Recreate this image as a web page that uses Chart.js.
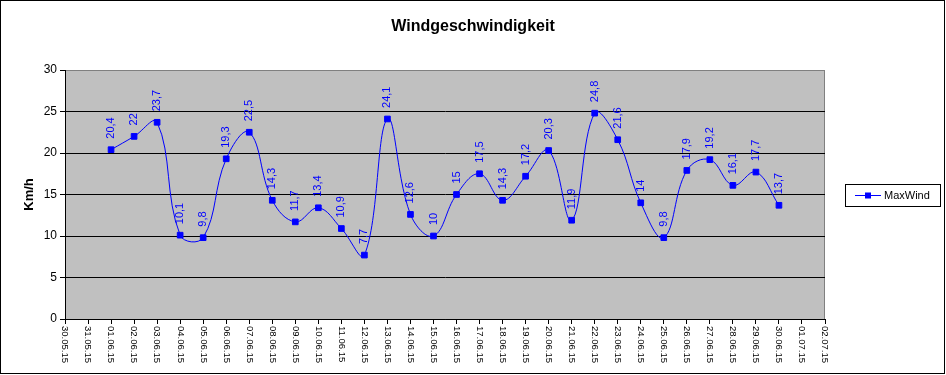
<!DOCTYPE html>
<html>
<head>
<meta charset="utf-8">
<script src="https://cdn.jsdelivr.net/npm/chart.js@4/dist/chart.umd.min.js"></script>
<style>
  html, body { margin: 0; padding: 0; background: #fff; }
  #c { display: block; }
</style>
</head>
<body>
<canvas id="c" width="946" height="375"></canvas>
<script>
// ── data ──────────────────────────────────────
const titleText = 'Windgeschwindigkeit';
const yAxisTitle = 'Km/h';
const seriesName = 'MaxWind';

const dates = [
  '30.05.15', '31.05.15', '01.06.15', '02.06.15', '03.06.15', '04.06.15', '05.06.15',
  '06.06.15', '07.06.15', '08.06.15', '09.06.15', '10.06.15', '11.06.15', '12.06.15',
  '13.06.15', '14.06.15', '15.06.15', '16.06.15', '17.06.15', '18.06.15', '19.06.15',
  '20.06.15', '21.06.15', '22.06.15', '23.06.15', '24.06.15', '25.06.15', '26.06.15',
  '27.06.15', '28.06.15', '29.06.15', '30.06.15', '01.07.15', '02.07.15'
];

const maxWind = [
  null, null, 20.4, 22, 23.7, 10.1, 9.8,
  19.3, 22.5, 14.3, 11.7, 13.4, 10.9, 7.7,
  24.1, 12.6, 10, 15, 17.5, 14.3, 17.2,
  20.3, 11.9, 24.8, 21.6, 14, 9.8, 17.9,
  19.2, 16.1, 17.7, 13.7, null, null
];

const yMin = 0, yMax = 30, yStep = 5;

const BLUE = '#0000ff';

// Excel-ish frame, plot background, texts drawn on canvas
const excelLook = {
  id: 'excelLook',
  beforeDraw(chart) {
    const { ctx, chartArea: a } = chart;
    ctx.save();
    ctx.fillStyle = '#fff';
    ctx.fillRect(0, 0, chart.width, chart.height);
    ctx.fillStyle = '#c0c0c0';
    ctx.fillRect(a.left, a.top, a.right - a.left, a.bottom - a.top);
    ctx.strokeStyle = '#808080';
    ctx.lineWidth = 1;
    ctx.strokeRect(a.left + 0.5, a.top + 0.5, a.right - a.left - 1, a.bottom - a.top);
    ctx.restore();
  },
  afterDatasetsDraw(chart) {
    // rotated value labels above each point
    const { ctx } = chart;
    const meta = chart.getDatasetMeta(0);
    const data = chart.data.datasets[0].data;
    ctx.save();
    ctx.fillStyle = BLUE;
    ctx.font = '11px "Liberation Sans", Arial, sans-serif';
    ctx.textAlign = 'left';
    ctx.textBaseline = 'middle';
    meta.data.forEach((pt, i) => {
      const v = data[i];
      if (v == null) return;
      ctx.save();
      ctx.translate(pt.x, pt.y - 11);
      ctx.rotate(-Math.PI / 2);
      ctx.fillText(String(v).replace('.', ','), 0, 0);
      ctx.restore();
    });
    ctx.restore();
  },
  afterDraw(chart) {
    const { ctx, chartArea: a } = chart;
    const xs = chart.scales.x;
    ctx.save();

    // outer frame
    ctx.strokeStyle = '#000';
    ctx.lineWidth = 1;
    ctx.strokeRect(0.5, 0.5, 944, 373);

    // title
    ctx.fillStyle = '#000';
    ctx.font = 'bold 16px "Liberation Sans", Arial, sans-serif';
    ctx.textAlign = 'center';
    ctx.textBaseline = 'alphabetic';
    ctx.fillText(titleText, 473, 31);

    // y axis title
    ctx.save();
    ctx.translate(33, (a.top + a.bottom) / 2);
    ctx.rotate(-Math.PI / 2);
    ctx.font = 'bold 13px "Liberation Sans", Arial, sans-serif';
    ctx.textAlign = 'center';
    ctx.textBaseline = 'alphabetic';
    ctx.fillText(yAxisTitle, 0, 0);
    ctx.restore();

    // x tick labels, rotated clockwise
    ctx.font = '9.5px "Liberation Sans", Arial, sans-serif';
    ctx.fillStyle = '#000';
    ctx.textAlign = 'left';
    ctx.textBaseline = 'middle';
    chart.data.labels.forEach((lab, i) => {
      const x = xs.getPixelForTick(i);
      ctx.save();
      ctx.translate(x, a.bottom + 7);
      ctx.rotate(Math.PI / 2);
      ctx.fillText(lab, 0, 0);
      ctx.restore();
    });

    // legend
    const lx = 845, ly = 184, lw = 95, lh = 22;
    ctx.strokeStyle = '#000';
    ctx.strokeRect(lx + 0.5, ly + 0.5, lw, lh);
    const my = ly + lh / 2 + 0.5;
    ctx.strokeStyle = BLUE;
    ctx.beginPath();
    ctx.moveTo(855, my);
    ctx.lineTo(881, my);
    ctx.stroke();
    ctx.fillStyle = BLUE;
    ctx.fillRect(865, my - 3, 6, 6);
    ctx.fillStyle = '#000';
    ctx.font = '11px "Liberation Sans", Arial, sans-serif';
    ctx.textAlign = 'left';
    ctx.textBaseline = 'middle';
    ctx.fillText(chart.data.datasets[0].label, 884, my);

    ctx.restore();
  }
};

new Chart(document.getElementById('c'), {
  type: 'line',
  data: {
    labels: dates,
    datasets: [{
      label: seriesName,
      data: maxWind,
      borderColor: BLUE,
      borderWidth: 1,
      backgroundColor: BLUE,
      pointStyle: 'rect',
      pointRadius: 4,
      pointBorderWidth: 1,
      pointBorderColor: BLUE,
      pointBackgroundColor: BLUE,
      tension: 0.4,
      fill: false,
    }],
  },
  options: {
    responsive: false,
    devicePixelRatio: 1,
    animation: false,
    layout: { padding: { top: 70, right: 121, bottom: 0, left: 0 } },
    plugins: {
      legend: { display: false },
      title: { display: false },
      tooltip: { enabled: false },
    },
    scales: {
      x: {
        type: 'category',
        offset: false,
        grid: { drawOnChartArea: false, drawTicks: true, tickLength: 5, color: '#000' },
        border: { color: '#000', width: 1 },
        ticks: { display: false, autoSkip: false },
        afterFit(s) { s.height = 56; },
      },
      y: {
        min: yMin,
        max: yMax,
        ticks: {
          stepSize: yStep,
          color: '#000',
          padding: 3,
          font: { family: '"Liberation Sans", Arial, sans-serif', size: 12 },
        },
        grid: {
          color: c => (c.tick && c.tick.value === yMax ? 'rgba(0,0,0,0)' : '#000'),
          tickColor: '#000',
          tickLength: 5,
          drawTicks: true,
        },
        border: { color: '#000', width: 1 },
        afterFit(s) { s.width = 65; },
      },
    },
  },
  plugins: [excelLook],
});
</script>
</body>
</html>
